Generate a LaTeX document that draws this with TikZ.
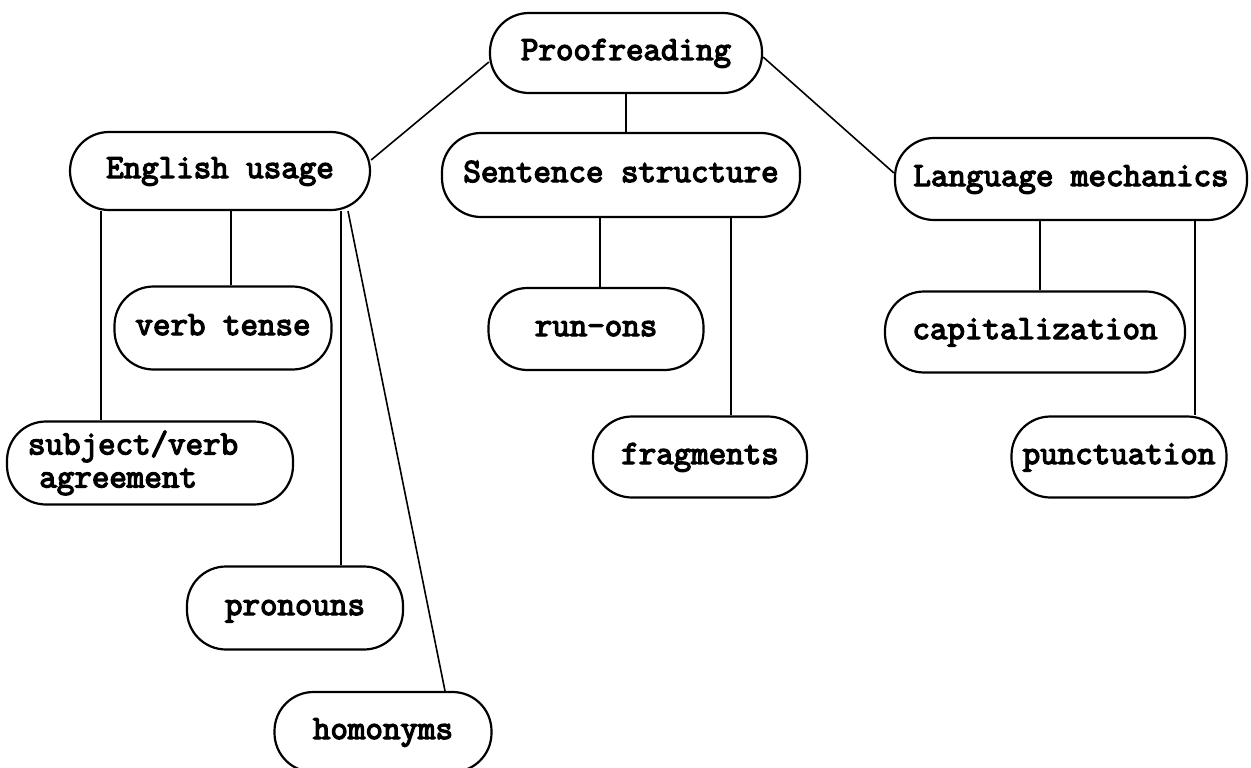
\documentclass[tikz,border=0pt]{standalone}
\usepackage{fontspec}
\newfontfamily\diagfont[AutoFakeBold=4]{Latin Modern Mono}
\usetikzlibrary{calc}
\tikzset{
  box/.style={draw, line width=2.2pt, rounded corners=39pt,
    font=\diagfont\bfseries\fontsize{34}{33}\selectfont,
    inner sep=0pt, align=center},
  one/.style={text height=21pt, text depth=7pt},
  link/.style={line width=1.6pt},
}
\begin{document}
\begin{tikzpicture}[x=1pt,y=-1pt]
\useasboundingbox (0,0) rectangle (1251,768);
% level 0
\node[box, one, minimum width=272pt, minimum height=80pt] (pf) at (626,53) {Proofreading};
% level 1
\node[box, one, minimum width=300pt, minimum height=78pt] (eu) at (220,171) {English usage};
\node[box, one, minimum width=358pt, minimum height=84pt] (ss) at (621,175) {Sentence structure};
\node[box, one, minimum width=352pt, minimum height=82pt] (lm) at (1071,179) {Language mechanics};
% level 2
\node[box, one, minimum width=217pt, minimum height=83pt] (vt) at (223,328) {verb tense};
\node[box, minimum height=83pt, text width=244pt, inner xsep=21pt, align=left] (sva) at (150,463) {subject/verb\\~agreement};
\node[box, one, minimum width=216pt, minimum height=83pt] (pn) at (295,608) {pronouns};
\node[box, one, minimum width=217pt, minimum height=80pt] (ho) at (383,732) {homonyms};
\node[box, one, minimum width=215pt, minimum height=82pt] (ro) at (596,329) {run-ons};
\node[box, one, minimum width=214pt, minimum height=81pt] (fr) at (700,457) {fragments};
\node[box, one, minimum width=300pt, minimum height=81pt] (cap) at (1035,332) {capitalization};
\node[box, one, minimum width=215pt, minimum height=81pt] (pu) at (1119,457) {punctuation};
% top connectors
\draw[link] ($(pf.west)+(0,9)$) -- ($(eu.east)+(0,-11)$);
\draw[link] (pf.south) -- (pf.south |- ss.north);
\draw[link] ($(pf.east)+(0,4)$) -- ($(lm.west)+(0,-6)$);
% English usage children
\coordinate (csva) at ($(sva.north)+(-49,0)$);
\coordinate (cvt) at ($(vt.north)+(8,0)$);
\coordinate (cpn) at ($(pn.north)+(46,0)$);
\draw[link] (csva |- eu.south) -- (csva);
\draw[link] (cvt |- eu.south) -- (cvt);
\draw[link] (cpn |- eu.south) -- (cpn);
\draw[link] ($(eu.south)+(128,0)$) -- ($(ho.north)+(62,0)$);
% Sentence structure children
\coordinate (cro) at ($(ro.north)+(4,0)$);
\coordinate (cfr) at ($(fr.north)+(31,0)$);
\draw[link] (cro |- ss.south) -- (cro);
\draw[link] (cfr |- ss.south) -- (cfr);
% Language mechanics children
\coordinate (ccap) at ($(cap.north)+(5,0)$);
\coordinate (cpu) at ($(pu.north)+(76,0)$);
\draw[link] (ccap |- lm.south) -- (ccap);
\draw[link] (cpu |- lm.south) -- (cpu);
\end{tikzpicture}
\end{document}
